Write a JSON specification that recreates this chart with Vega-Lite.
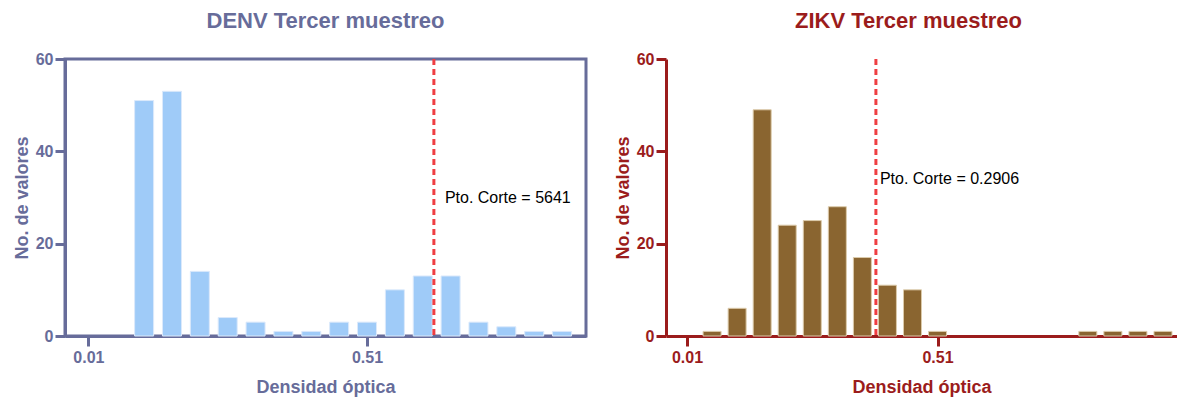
{
  "$schema": "https://vega.github.io/schema/vega-lite/v6.json",
  "background": "white",
  "padding": {"left": 11, "top": 8, "right": 0, "bottom": 0},
  "spacing": 26,
  "config": {
    "font": "Liberation Sans",
    "axis": {
      "grid": false,
      "domainWidth": 3,
      "tickWidth": 3,
      "tickSize": 10,
      "labelPadding": 2,
      "labelFont": "Liberation Sans",
      "labelFontSize": 16,
      "labelFontWeight": "bold",
      "titleFont": "Liberation Sans",
      "titleFontSize": 18,
      "titleFontWeight": "bold"
    },
    "axisX": {"labelPadding": 3, "titlePadding": 13},
    "title": {"font": "Liberation Sans", "fontSize": 22, "fontWeight": "bold", "offset": 18}
  },
  "hconcat": [
    {
      "width": 521,
      "height": 277,
      "title": {"text": "DENV Tercer muestreo", "color": "#676c9a"},
      "view": {"stroke": "#676c9a", "strokeWidth": 3},
      "layer": [
        {
          "data": {"values": [
            {"od": 0.11, "n": 51}, {"od": 0.16, "n": 53}, {"od": 0.21, "n": 14},
            {"od": 0.26, "n": 4}, {"od": 0.31, "n": 3}, {"od": 0.36, "n": 1},
            {"od": 0.41, "n": 1}, {"od": 0.46, "n": 3}, {"od": 0.51, "n": 3},
            {"od": 0.56, "n": 10}, {"od": 0.61, "n": 13}, {"od": 0.66, "n": 13},
            {"od": 0.71, "n": 3}, {"od": 0.76, "n": 2}, {"od": 0.81, "n": 1},
            {"od": 0.86, "n": 1}
          ]},
          "mark": {"type": "bar", "width": 19, "color": "#9fcbf8", "stroke": "#dbe9fb", "strokeWidth": 1},
          "encoding": {
            "x": {
              "field": "od", "type": "quantitative",
              "scale": {"domain": [-0.023, 0.894], "nice": false, "zero": false},
              "axis": {"values": [0.01, 0.51], "format": ".2f", "title": "Densidad óptica",
                "domainColor": "#676c9a", "tickColor": "#676c9a", "labelColor": "#676c9a", "titleColor": "#676c9a"}
            },
            "y": {
              "field": "n", "type": "quantitative",
              "scale": {"domain": [0, 60], "nice": false},
              "axis": {"values": [0, 20, 40, 60], "title": "No. de valores",
                "domainColor": "#676c9a", "tickColor": "#676c9a", "labelColor": "#676c9a", "titleColor": "#676c9a"}
            }
          }
        },
        {
          "data": {"values": [{"corte": 0.63, "n": 30, "etiqueta": "Pto. Corte = 5641"}]},
          "mark": {"type": "rule", "color": "#ef3e42", "strokeWidth": 3, "strokeDash": [6, 4]},
          "encoding": {"x": {"field": "corte", "type": "quantitative"}}
        },
        {
          "data": {"values": [{"corte": 0.63, "n": 30, "etiqueta": "Pto. Corte = 5641"}]},
          "mark": {"type": "text", "align": "left", "baseline": "middle", "dx": 11, "fontSize": 16, "font": "Liberation Sans", "color": "#000000"},
          "encoding": {
            "x": {"field": "corte", "type": "quantitative"},
            "y": {"field": "n", "type": "quantitative"},
            "text": {"field": "etiqueta"}
          }
        }
      ]
    },
    {
      "width": 511,
      "height": 277,
      "title": {"text": "ZIKV Tercer muestreo", "color": "#9b1c1c", "anchor": "middle", "dx": -13},
      "view": {"stroke": null},
      "layer": [
        {
          "data": {"values": [
            {"od": 0.06, "n": 1}, {"od": 0.11, "n": 6}, {"od": 0.16, "n": 49},
            {"od": 0.21, "n": 24}, {"od": 0.26, "n": 25}, {"od": 0.31, "n": 28},
            {"od": 0.36, "n": 17}, {"od": 0.41, "n": 11}, {"od": 0.46, "n": 10},
            {"od": 0.51, "n": 1}, {"od": 0.81, "n": 1}, {"od": 0.86, "n": 1},
            {"od": 0.91, "n": 1}, {"od": 0.96, "n": 1}
          ]},
          "mark": {"type": "bar", "width": 18, "color": "#8a6530", "stroke": "#dccbab", "strokeWidth": 1},
          "encoding": {
            "x": {
              "field": "od", "type": "quantitative",
              "scale": {"domain": [-0.022, 0.978], "nice": false, "zero": false},
              "axis": {"values": [0.01, 0.51], "format": ".2f", "title": "Densidad óptica",
                "domainColor": "#9b1c1c", "tickColor": "#9b1c1c", "labelColor": "#9b1c1c", "titleColor": "#9b1c1c"}
            },
            "y": {
              "field": "n", "type": "quantitative",
              "scale": {"domain": [0, 60], "nice": false},
              "axis": {"values": [0, 20, 40, 60], "title": "No. de valores",
                "domainColor": "#9b1c1c", "tickColor": "#9b1c1c", "labelColor": "#9b1c1c", "titleColor": "#9b1c1c"}
            }
          }
        },
        {
          "mark": {"type": "rule", "color": "#9b1c1c", "strokeWidth": 3},
          "encoding": {"y": {"datum": 60}}
        },
        {
          "data": {"values": [{"corte": 0.387, "n": 34, "etiqueta": "Pto. Corte = 0.2906"}]},
          "mark": {"type": "rule", "color": "#ef3e42", "strokeWidth": 3, "strokeDash": [6, 4]},
          "encoding": {"x": {"field": "corte", "type": "quantitative"}}
        },
        {
          "data": {"values": [{"corte": 0.387, "n": 34, "etiqueta": "Pto. Corte = 0.2906"}]},
          "mark": {"type": "text", "align": "left", "baseline": "middle", "dx": 4, "fontSize": 16, "font": "Liberation Sans", "color": "#000000"},
          "encoding": {
            "x": {"field": "corte", "type": "quantitative"},
            "y": {"field": "n", "type": "quantitative"},
            "text": {"field": "etiqueta"}
          }
        }
      ]
    }
  ]
}
